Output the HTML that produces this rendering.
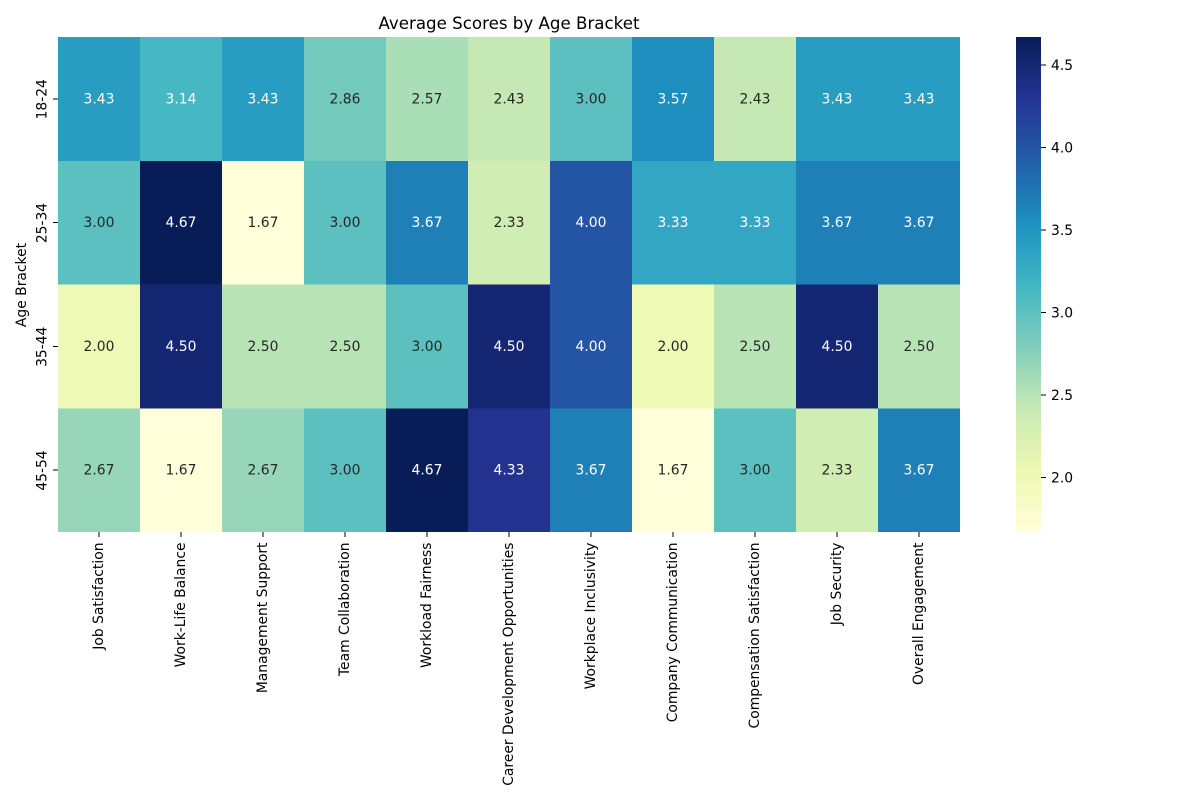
<!DOCTYPE html>
<html lang="en">
<head>
<meta charset="utf-8">
<title>Average Scores by Age Bracket</title>
<style>
  html, body { margin: 0; padding: 0; background: #fff; }
  svg { display: block; }
  text { font-family: "DejaVu Sans", "Liberation Sans", sans-serif; fill: #000; }
  .tick-label { font-size: 13.89px; fill: #000; }
  .cell-label { font-size: 13.89px; text-anchor: middle; }
  .tick { stroke: #000; stroke-width: 1.1; shape-rendering: crispEdges; }
</style>
</head>
<body>
<svg id="chart" xmlns="http://www.w3.org/2000/svg" width="1200" height="800" viewBox="0 0 1200 800">
  <text x="509" y="29" text-anchor="middle" font-size="16.67">Average Scores by Age Bracket</text>
  <text transform="translate(26 285) rotate(-90)" text-anchor="middle" font-size="13.89">Age Bracket</text>
  <g id="cells"></g>
  <g id="x-axis"></g>
  <g id="y-axis"></g>
  <g id="colorbar"></g>
</svg>
<script>
const categories = ["Job Satisfaction", "Work-Life Balance", "Management Support", "Team Collaboration", "Workload Fairness", "Career Development Opportunities", "Workplace Inclusivity", "Company Communication", "Compensation Satisfaction", "Job Security", "Overall Engagement"];
const brackets = ["18-24", "25-34", "35-44", "45-54"];
const scores1824 = [3.43, 3.14, 3.43, 2.86, 2.57, 2.43, 3.00, 3.57, 2.43, 3.43, 3.43];
const scores2534 = [3.00, 4.67, 1.67, 3.00, 3.67, 2.33, 4.00, 3.33, 3.33, 3.67, 3.67];
const scores3544 = [2.00, 4.50, 2.50, 2.50, 3.00, 4.50, 4.00, 2.00, 2.50, 4.50, 2.50];
const scores4554 = [2.67, 1.67, 2.67, 3.00, 4.67, 4.33, 3.67, 1.67, 3.00, 2.33, 3.67];
const colorbarTicks = [2.0, 2.5, 3.0, 3.5, 4.0, 4.5];

const SVG_NS = "http://www.w3.org/2000/svg";
const rows = [scores1824, scores2534, scores3544, scores4554];
const plot = { left: 58, right: 960, top: 37, bottom: 532 };
const bar = { left: 1016, right: 1041, top: 37, bottom: 532 };
const palette = [[255,255,217],[237,248,177],[199,233,180],[127,205,187],[65,182,196],[29,145,192],[34,94,168],[37,52,148],[8,29,88]];

const allValues = rows.flat();
const vMin = Math.min(...allValues);
const vMax = Math.max(...allValues);

function xBand(i) { return plot.left + i * (plot.right - plot.left) / categories.length; }
function yBand(j) { return plot.top + j * (plot.bottom - plot.top) / brackets.length; }
function barY(v) { return bar.bottom - (v - vMin) / (vMax - vMin) * (bar.bottom - bar.top); }

function rgbAt(v) {
  const t = Math.max(0, Math.min(1, (v - vMin) / (vMax - vMin))) * (palette.length - 1);
  const k = Math.min(palette.length - 2, Math.floor(t));
  const f = t - k;
  return palette[k].map((c, n) => Math.round(c + (palette[k + 1][n] - c) * f));
}
function cssColor(rgb) { return "rgb(" + rgb.join(",") + ")"; }
function luminance(rgb) {
  const lin = rgb.map(c => { c /= 255; return c <= 0.03928 ? c / 12.92 : Math.pow((c + 0.055) / 1.055, 2.4); });
  return 0.2126 * lin[0] + 0.7152 * lin[1] + 0.0722 * lin[2];
}
function make(tag, attrs, parent, txt) {
  const el = document.createElementNS(SVG_NS, tag);
  for (const k in attrs) el.setAttribute(k, attrs[k]);
  if (txt !== undefined) el.textContent = txt;
  parent.appendChild(el);
  return el;
}

const cellsG = document.getElementById("cells");
rows.forEach((row, j) => {
  row.forEach((v, i) => {
    const rgb = rgbAt(v);
    const x0 = xBand(i), x1 = xBand(i + 1), y0 = yBand(j), y1 = yBand(j + 1);
    const r = make("rect", { x: x0, y: y0, width: x1 - x0, height: y1 - y0, fill: cssColor(rgb), "shape-rendering": "crispEdges" }, cellsG);
    
    
    const t = make("text", { x: (x0 + x1) / 2, y: (y0 + y1) / 2 + 4.4, class: "cell-label" }, cellsG, v.toFixed(2));
    t.style.fill = luminance(rgb) > 0.408 ? "#262626" : "#ffffff";
    
    
  });
});

const xG = document.getElementById("x-axis");
categories.forEach((name, i) => {
  const cx = (xBand(i) + xBand(i + 1)) / 2;
  const l = make("line", { x1: cx, x2: cx, y1: plot.bottom, y2: plot.bottom + 5, class: "tick" }, xG);
  
  
  const t = make("text", { transform: "translate(" + (cx + 4) + " " + (plot.bottom + 10.5) + ") rotate(-90)", "text-anchor": "end", class: "tick-label" }, xG, name);
  
  
});

const yG = document.getElementById("y-axis");
brackets.forEach((name, j) => {
  const cy = (yBand(j) + yBand(j + 1)) / 2;
  const l = make("line", { x1: plot.left - 5, x2: plot.left, y1: cy, y2: cy, class: "tick" }, yG);
  
  
  const t = make("text", { transform: "translate(46.5 " + (cy + 0.4) + ") rotate(-90)", "text-anchor": "middle", class: "tick-label" }, yG, name);
  
  
});

const cbG = document.getElementById("colorbar");
const barStrips = bar.bottom - bar.top;
for (let s = 0; s < barStrips; s++) {
  const v = vMin + (s + 0.5) / barStrips * (vMax - vMin);
  const strip = make("rect", { x: bar.left, y: bar.bottom - s - 1, width: bar.right - bar.left, height: 1, fill: cssColor(rgbAt(v)), "shape-rendering": "crispEdges" }, cbG);
  
  
}
colorbarTicks.forEach(v => {
  const y = barY(v);
  const l = make("line", { x1: bar.right, x2: bar.right + 5, y1: y, y2: y, class: "tick" }, cbG);
  
  
  const t = make("text", { x: bar.right + 10, y: y + 5, class: "tick-label" }, cbG, v.toFixed(1));
  
  
});
</script>
</body>
</html>
